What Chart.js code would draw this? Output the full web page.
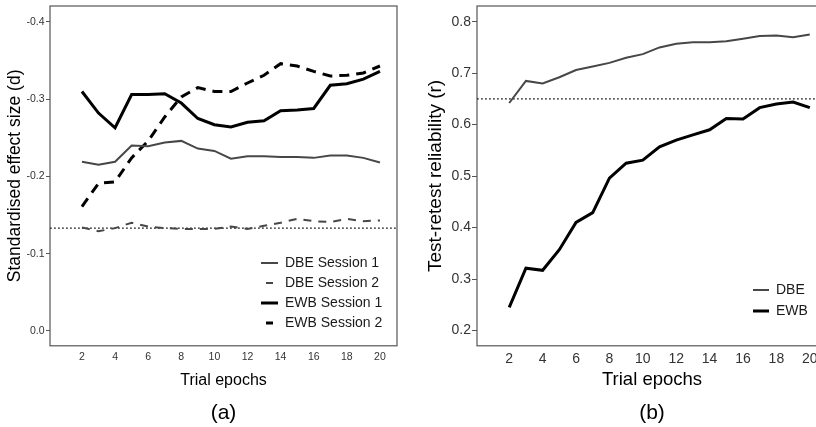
<!DOCTYPE html>
<html>
<head>
<meta charset="utf-8">
<script src="https://cdn.jsdelivr.net/npm/chart.js@4"></script>
<style>
  html, body { margin: 0; padding: 0; background: #fff; overflow: hidden; width: 816px; height: 427px; }
  #wrapA { position: absolute; left: 0; top: 0; width: 410px; height: 427px; }
  #wrapB { position: absolute; left: 410px; top: 0; width: 430px; height: 427px; }
</style>
</head>
<body>
<div id="wrapA"><canvas id="chartA" width="410" height="427"></canvas></div>
<div id="wrapB"><canvas id="chartB" width="430" height="427"></canvas></div>
<script>
// trial epochs (x)
const epochs = [2, 3, 4, 5, 6, 7, 8, 9, 10, 11, 12, 13, 14, 15, 16, 17, 18, 19, 20];
const xTicks = [2, 4, 6, 8, 10, 12, 14, 16, 18, 20];

// (a) standardised effect size
const dbeS1 = [-0.219, -0.215, -0.219, -0.240, -0.239, -0.244, -0.246, -0.236, -0.233, -0.223, -0.226, -0.226, -0.225, -0.225, -0.224, -0.227, -0.227, -0.224, -0.218];
const dbeS2 = [-0.134, -0.129, -0.133, -0.140, -0.135, -0.133, -0.132, -0.132, -0.132, -0.135, -0.132, -0.136, -0.140, -0.145, -0.142, -0.141, -0.145, -0.142, -0.143];
const ewbS1 = [-0.310, -0.282, -0.263, -0.306, -0.306, -0.307, -0.295, -0.275, -0.267, -0.264, -0.270, -0.272, -0.285, -0.286, -0.288, -0.318, -0.320, -0.326, -0.336];
const ewbS2 = [-0.161, -0.191, -0.193, -0.224, -0.246, -0.277, -0.303, -0.315, -0.310, -0.310, -0.321, -0.331, -0.346, -0.343, -0.336, -0.330, -0.331, -0.334, -0.343];
const effectTicks = [-0.4, -0.3, -0.2, -0.1, 0.0];
const effectRef = -0.133;

// (b) test-retest reliability
const dbeRel = [0.642, 0.685, 0.680, 0.692, 0.706, 0.713, 0.720, 0.730, 0.737, 0.750, 0.757, 0.760, 0.760, 0.762, 0.767, 0.772, 0.773, 0.770, 0.775];
const ewbRel = [0.245, 0.321, 0.317, 0.357, 0.410, 0.429, 0.496, 0.525, 0.531, 0.557, 0.570, 0.580, 0.590, 0.612, 0.611, 0.633, 0.640, 0.644, 0.633];
const relTicks = [0.2, 0.3, 0.4, 0.5, 0.6, 0.7, 0.8];
const relRef = 0.65;

const X_MIN = 0.07, X_MAX = 21.03;
const FONT = "'Liberation Sans', Arial, sans-serif";
const GREY = '#474747';

Chart.defaults.font.family = FONT;
Chart.defaults.animation = false;

const pts = (vals) => vals.map((v, i) => ({ x: epochs[i], y: v }));
const refLine = (v) => ({
  isRef: true, label: 'ref',
  data: [{ x: X_MIN, y: v }, { x: X_MAX, y: v }],
  borderColor: '#222', borderWidth: 1.3, borderDash: [1.8, 2.2], pointRadius: 0
});

// box round the plot panel
const frame = {
  id: 'frame',
  beforeDatasetsDraw(chart) {
    const { ctx, chartArea: a } = chart;
    ctx.save();
    ctx.strokeStyle = '#555';
    ctx.lineWidth = 1.2;
    ctx.strokeRect(a.left, a.top, a.right - a.left, a.bottom - a.top);
    ctx.restore();
  }
};

// put the legend inside the panel
const placeLegend = {
  id: 'placeLegend',
  afterLayout(chart, args, o) {
    const lg = chart.legend;
    if (!lg) return;
    const w = lg.width, h = lg.height;
    lg.left = o.x; lg.right = o.x + w;
    lg.top = o.y; lg.bottom = o.y + h;
  }
};

function legendOpts(sw, pad) {
  return {
    position: 'chartArea', align: 'start',
    labels: {
      usePointStyle: true, pointStyle: 'line', pointStyleWidth: sw,
      padding: pad, color: '#1a1a1a', font: { size: 14 },
      filter: (item, data) => !data.datasets[item.datasetIndex].isRef,
      generateLabels(chart) {
        const items = Chart.defaults.plugins.legend.labels.generateLabels(chart);
        items.forEach(it => {
          const ds = chart.data.datasets[it.datasetIndex];
          it.lineWidth = ds.borderWidth;
          it.strokeStyle = ds.borderColor;
          if (ds.borderDash && !ds.isRef) {
            const g = (sw - 7) / 2;
            it.lineDash = [0, g, 7, g];
          } else {
            it.lineDash = [];
          }
        });
        return items;
      }
    }
  };
}

function xScale(tickSize, titleSize, titlePad) {
  return {
    type: 'linear', min: X_MIN, max: X_MAX,
    afterBuildTicks: s => { s.ticks = xTicks.map(v => ({ value: v })); },
    ticks: { font: { size: tickSize }, color: '#333', padding: 5, autoSkip: false, maxRotation: 0 },
    grid: { display: false, drawTicks: false },
    border: { display: false },
    title: { display: true, text: 'Trial epochs', color: '#000', font: { size: titleSize }, padding: { top: 0, bottom: titlePad } },
    afterFit: s => { s.height = 55; s.paddingLeft = 0; s.paddingRight = 0; }
  };
}

function yScale(o) {
  return {
    type: 'linear', reverse: !!o.reverse, min: o.min, max: o.max,
    afterBuildTicks: s => { s.ticks = o.ticks.map(v => ({ value: v })); },
    ticks: { callback: v => v.toFixed(1), font: { size: o.tickSize }, color: '#333', padding: o.tickPad },
    grid: { drawOnChartArea: false, drawTicks: true, tickLength: o.tickLen, color: '#555' },
    border: { display: false },
    title: { display: true, text: o.title, color: '#000', font: { size: o.titleSize }, padding: { top: o.titlePad, bottom: 0 } },
    afterFit: s => { s.width = o.width; s.paddingTop = 0; s.paddingBottom = 0; }
  };
}

new Chart('chartA', {
  type: 'line',
  data: {
    datasets: [
      { label: 'DBE Session 1', data: pts(dbeS1), borderColor: GREY, borderWidth: 2, pointRadius: 0 },
      { label: 'DBE Session 2', data: pts(dbeS2), borderColor: GREY, borderWidth: 2, borderDash: [8, 7], pointRadius: 0 },
      { label: 'EWB Session 1', data: pts(ewbS1), borderColor: '#000', borderWidth: 3, pointRadius: 0 },
      { label: 'EWB Session 2', data: pts(ewbS2), borderColor: '#000', borderWidth: 3, borderDash: [10, 7], pointRadius: 0 },
      refLine(effectRef)
    ]
  },
  options: {
    responsive: false,
    layout: { padding: { top: 6, right: 13, left: 0, bottom: 0 } },
    scales: {
      x: xScale(10.5, 16, 11),
      y: yScale({ reverse: true, min: -0.4207, max: 0.0194, ticks: effectTicks, tickSize: 10.5, tickPad: 1.5, tickLen: 4,
                  title: 'Standardised effect size (d)', titleSize: 17.5, titlePad: 5, width: 50 })
    },
    plugins: {
      legend: legendOpts(17, 6),
      placeLegend: { x: 255, y: 250 },
      title: { display: true, text: '(a)', position: 'bottom', fullSize: false, color: '#000', font: { size: 21, weight: 'normal' }, padding: { top: 0, bottom: 1 } },
      tooltip: { enabled: false }
    }
  },
  plugins: [frame, placeLegend]
});

new Chart('chartB', {
  type: 'line',
  data: {
    datasets: [
      { label: 'DBE', data: pts(dbeRel), borderColor: GREY, borderWidth: 2, pointRadius: 0 },
      { label: 'EWB', data: pts(ewbRel), borderColor: '#000', borderWidth: 3, pointRadius: 0 },
      refLine(relRef)
    ]
  },
  options: {
    responsive: false,
    layout: { padding: { top: 6, right: 13, left: 0, bottom: 0 } },
    scales: {
      x: xScale(14, 18.5, 9.7),
      y: yScale({ min: 0.1703, max: 0.8305, ticks: relTicks, tickSize: 14, tickPad: 1, tickLen: 5,
                  title: 'Test-retest reliability (r)', titleSize: 19, titlePad: 14.6, width: 67 })
    },
    plugins: {
      legend: legendOpts(16, 7),
      placeLegend: { x: 336, y: 276 },
      title: { display: true, text: '(b)', position: 'bottom', fullSize: false, color: '#000', font: { size: 21, weight: 'normal' }, padding: { top: 0, bottom: 1 } },
      tooltip: { enabled: false }
    }
  },
  plugins: [frame, placeLegend]
});
</script>
</body>
</html>
